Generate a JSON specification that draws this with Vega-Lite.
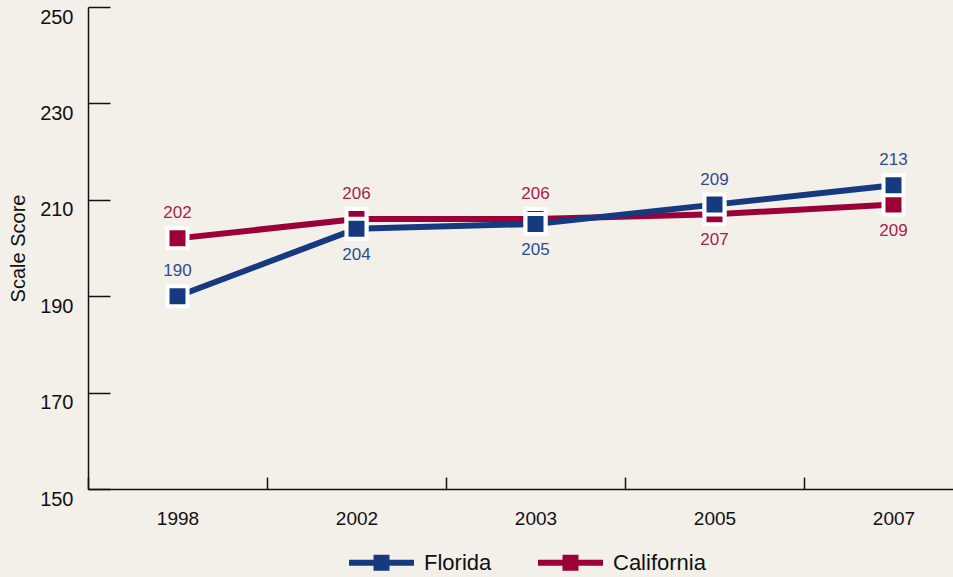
{
  "$schema": "https://vega.github.io/schema/vega-lite/v6.json",
  "width": 895,
  "height": 482,
  "autosize": {"type": "none"},
  "padding": {"left": 88, "top": 7, "right": 0, "bottom": 88},
  "background": "#f3efe9",
  "config": {
    "view": {"stroke": null},
    "font": "Liberation Sans",
    "axis": {"domainColor": "#111111", "tickColor": "#111111", "domainWidth": 1.5, "tickWidth": 1.5, "labelColor": "#111111", "titleColor": "#111111", "grid": false}
  },
  "data": {
    "values": [
      {"year": "1998", "state": "California", "score": 202},
      {"year": "2002", "state": "California", "score": 206},
      {"year": "2003", "state": "California", "score": 206},
      {"year": "2005", "state": "California", "score": 207},
      {"year": "2007", "state": "California", "score": 209},
      {"year": "1998", "state": "Florida", "score": 190},
      {"year": "2002", "state": "Florida", "score": 204},
      {"year": "2003", "state": "Florida", "score": 205},
      {"year": "2005", "state": "Florida", "score": 209},
      {"year": "2007", "state": "Florida", "score": 213}
    ]
  },
  "encoding": {
    "x": {
      "field": "year",
      "type": "ordinal",
      "bandPosition": 0.5,
      "scale": {"type": "band", "paddingInner": 0, "paddingOuter": 0},
      "axis": {"title": null, "labelAngle": 0, "tickBand": "extent", "tickSize": -12, "labelPadding": 32, "labelFontSize": 19, "labelBaseline": "top"}
    },
    "y": {
      "field": "score",
      "type": "quantitative",
      "scale": {"domain": [150, 250], "nice": false, "zero": false},
      "axis": {"values": [150, 170, 190, 210, 230, 250], "title": "Scale Score", "titleFontSize": 20, "titleFontWeight": "normal", "tickSize": -22, "labelPadding": 37, "labelFontSize": 20, "labelBaseline": "top", "titlePadding": 11}
    }
  },
  "layer": [
    {
      "mark": {"type": "line", "strokeWidth": 6},
      "encoding": {
        "color": {
          "field": "state",
          "type": "nominal",
          "sort": ["Florida", "California"],
          "scale": {"domain": ["Florida", "California"], "range": ["#163a80", "#9b0037"]},
          "legend": {
            "title": null,
            "orient": "none",
            "direction": "horizontal",
            "legendX": 261,
            "legendY": 523,
            "padding": 0,
            "symbolType": "M-1,-0.092H1V0.092H-1Z M-0.246,-0.246H0.246V0.246H-0.246Z",
            "symbolSize": 4225,
            "symbolStrokeWidth": 0,
            "labelFontSize": 22,
            "labelColor": "#111111",
            "labelOffset": 10,
            "columnPadding": 46,
            "encode": {"symbols": {"update": {"fill": {"scale": "color", "field": "value"}, "stroke": {"value": "transparent"}, "opacity": {"value": 1}}}}
          }
        }
      }
    },
    {
      "mark": {"type": "point", "shape": "square", "filled": true, "opacity": 1, "size": 400, "stroke": "white", "strokeWidth": 4},
      "encoding": {
        "color": {"field": "state", "type": "nominal"}
      }
    },
    {
      "transform": [{"filter": "(datum.state == 'Florida' && (datum.year == '1998' || datum.year == '2005' || datum.year == '2007')) || (datum.state == 'California' && (datum.year == '1998' || datum.year == '2002' || datum.year == '2003'))"}],
      "mark": {"type": "text", "dy": -25, "fontSize": 17, "baseline": "middle"},
      "encoding": {
        "text": {"field": "score", "type": "quantitative"},
        "color": {"condition": {"test": "datum.state == 'Florida'", "value": "#2e4d8f"}, "value": "#a61f4c"}
      }
    },
    {
      "transform": [{"filter": "!((datum.state == 'Florida' && (datum.year == '1998' || datum.year == '2005' || datum.year == '2007')) || (datum.state == 'California' && (datum.year == '1998' || datum.year == '2002' || datum.year == '2003')))"}],
      "mark": {"type": "text", "dy": 26, "fontSize": 17, "baseline": "middle"},
      "encoding": {
        "text": {"field": "score", "type": "quantitative"},
        "color": {"condition": {"test": "datum.state == 'Florida'", "value": "#2e4d8f"}, "value": "#a61f4c"}
      }
    }
  ]
}
